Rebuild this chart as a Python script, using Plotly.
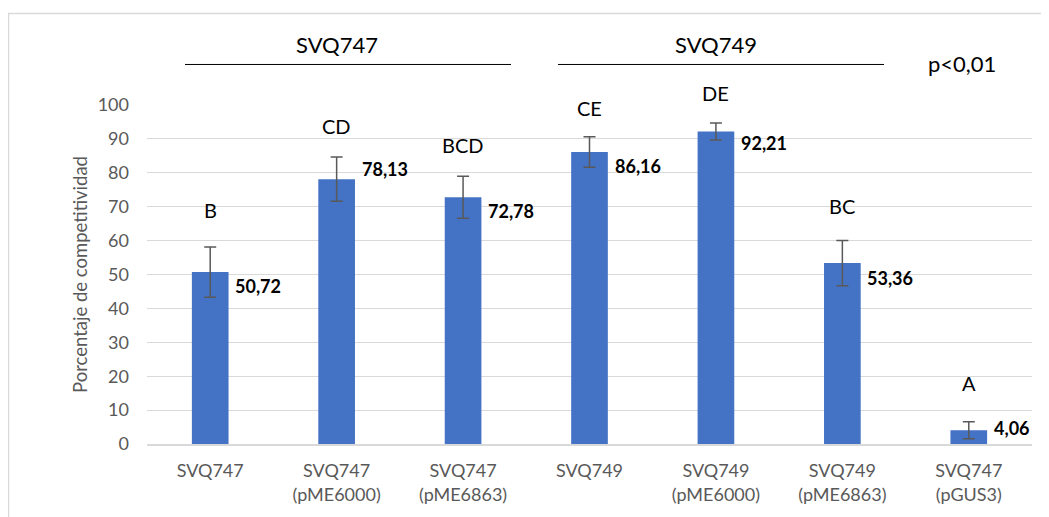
import plotly.graph_objects as go

categories = ["SVQ747", "SVQ747<br>(pME6000)", "SVQ747<br>(pME6863)", "SVQ749",
              "SVQ749<br>(pME6000)", "SVQ749<br>(pME6863)", "SVQ747<br>(pGUS3)"]
values = [50.72, 78.13, 72.78, 86.16, 92.21, 53.36, 4.06]
errors = [7.4, 6.5, 6.2, 4.5, 2.5, 6.7, 2.5]
value_text = ["50,72", "78,13", "72,78", "86,16", "92,21", "53,36", "4,06"]
letters = ["B", "CD", "BCD", "CE", "DE", "BC", "A"]
y_ticks = [0, 10, 20, 30, 40, 50, 60, 70, 80, 90, 100]
Y_MAX = 100

# layout-only offsets for labels (in axis units)
value_label_dy = [-4, 3, -4, -4.3, -3.3, -4.3, 0.6]
letter_dy = [10.8, 9.1, 9.3, 8.4, 8.8, 10.0, 11.4]

FONT = "Lato, 'Open Sans', sans-serif"
GRAY = "#595959"

# the page adds an 8px body margin; screen coords below compensate
OFF = 8
PL, PR, PT, PB = 147, 1032, 105, 448  # plot area in screen pixels


def px(x):
    return (x - PL) / (PR - PL)


def py(y):
    return (PB - y) / (PB - PT)


fig = go.Figure()
fig.add_trace(go.Bar(
    x=categories, y=values, width=0.29,
    marker=dict(color="#4472C4", line=dict(width=0)),
    error_y=dict(type="data", array=errors, visible=True, color=GRAY, thickness=1.5, width=6),
    hoverinfo="skip", showlegend=False,
))

annotations = []
for i, c in enumerate(categories):
    annotations.append(dict(x=c, y=values[i] + value_label_dy[i], xref="x", yref="y",
                            text="<b>" + value_text[i] + "</b>", showarrow=False,
                            xanchor="left", yanchor="middle", xshift=23,
                            font=dict(family=FONT, size=18, color="#000000")))
    annotations.append(dict(x=c, y=(values[i] + errors[i] + letter_dy[i]) / Y_MAX,
                            xref="x", yref="paper",
                            text=letters[i], showarrow=False, xanchor="center", yanchor="middle",
                            font=dict(family=FONT, size=20, color="#000000")))

# group headers
annotations += [
    dict(x=categories[1], y=py(44), xref="x", yref="paper", text="SVQ747", showarrow=False,
         xanchor="center", yanchor="middle", font=dict(family=FONT, size=22, color="#000000")),
    dict(x=categories[4], y=py(44), xref="x", yref="paper", text="SVQ749", showarrow=False,
         xanchor="center", yanchor="middle", font=dict(family=FONT, size=22, color="#000000")),
    dict(x=px(962), y=py(63), xref="paper", yref="paper", text="p<0,01", showarrow=False,
         xanchor="center", yanchor="middle", font=dict(family=FONT, size=22, color="#000000")),
]

shapes = [
    dict(type="line", xref="paper", yref="paper", x0=px(185), x1=px(511),
         y0=py(64), y1=py(64), line=dict(color="#000000", width=1)),
    dict(type="line", xref="paper", yref="paper", x0=px(558), x1=px(884),
         y0=py(64), y1=py(64), line=dict(color="#000000", width=1)),
    dict(type="rect", xref="paper", yref="paper", x0=px(8.5), x1=1.05,
         y0=-0.3, y1=py(12.5), line=dict(color="#d9d9d9", width=1.5),
         fillcolor="rgba(0,0,0,0)", layer="below"),
]

fig.update_layout(
    width=1049 - OFF, height=517 - OFF,
    margin=dict(l=PL - OFF, r=1049 - PR, t=PT - OFF, b=517 - PB),
    paper_bgcolor="#ffffff", plot_bgcolor="#ffffff",
    annotations=annotations, shapes=shapes,
    xaxis=dict(type="category", showline=True, linecolor="#d9d9d9", linewidth=1.5,
               showgrid=False, ticks="", ticklabelstandoff=10,
               tickfont=dict(family=FONT, size=18, color=GRAY)),
    yaxis=dict(range=[0, Y_MAX], tickvals=y_ticks, showgrid=True, gridcolor="#d9d9d9",
               gridwidth=1, zeroline=False, showline=False, ticks="",
               ticklabelstandoff=17,
               tickfont=dict(family=FONT, size=18, color=GRAY),
               title=dict(text="Porcentaje de competitividad", standoff=5,
                          font=dict(family=FONT, size=18.5, color=GRAY))),
)

fig.write_html("out.html")
